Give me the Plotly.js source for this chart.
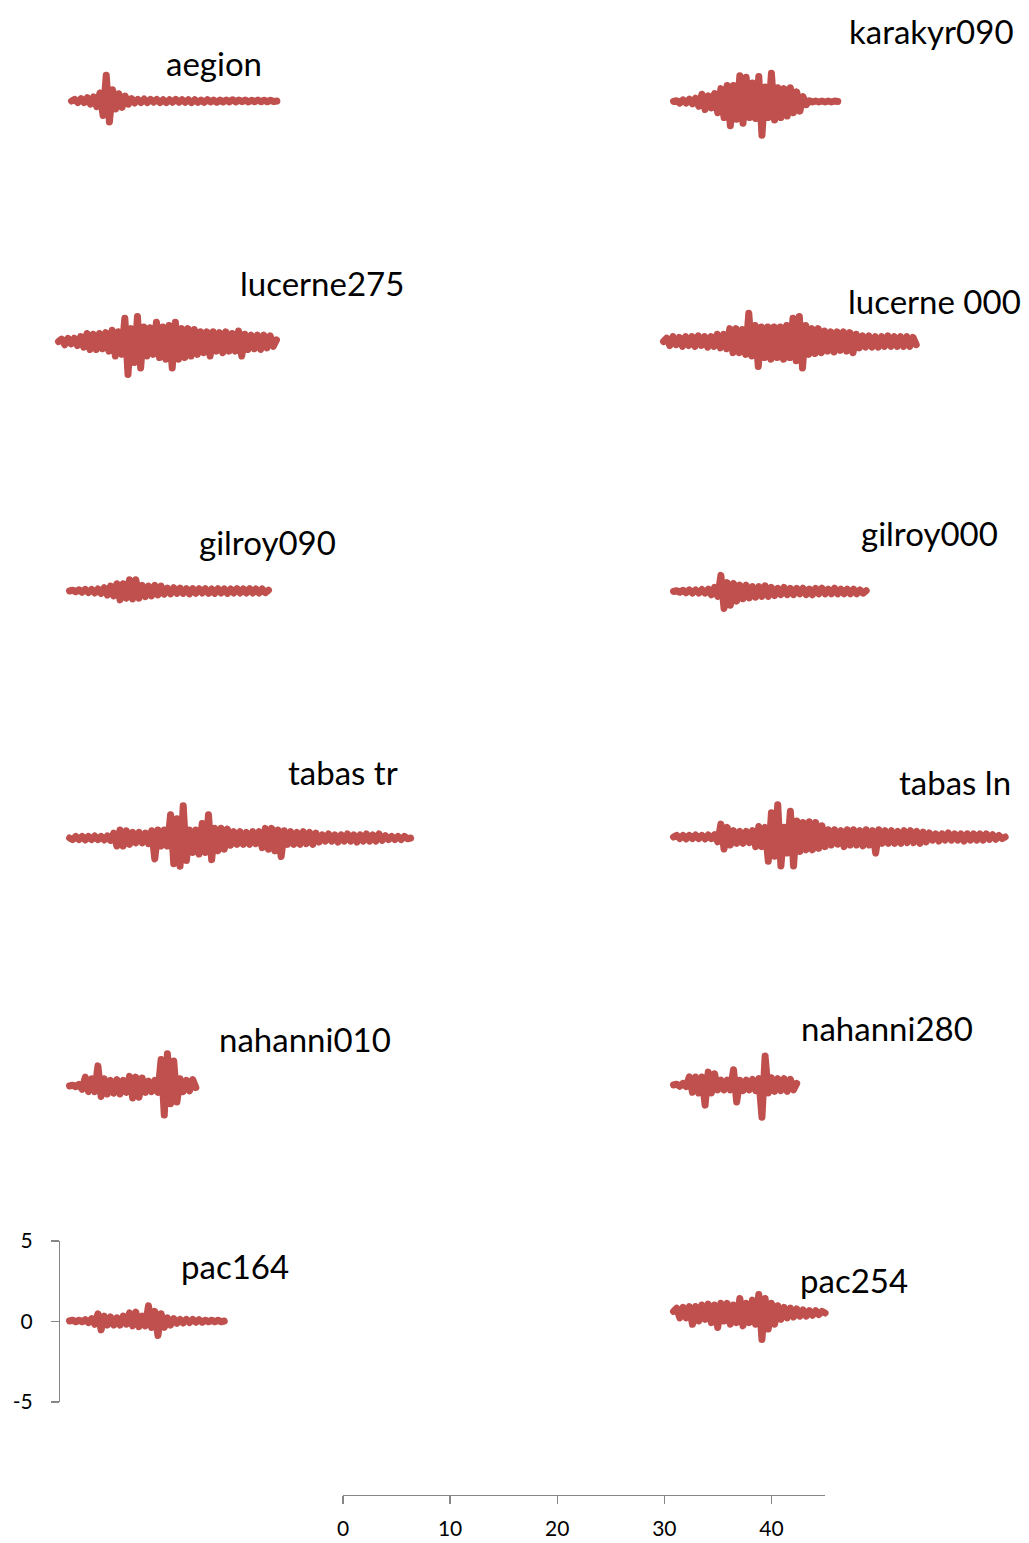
<!DOCTYPE html>
<html><head><meta charset="utf-8">
<script src="https://cdn.plot.ly/plotly-3.0.1.min.js"></script>
<style>
html,body{margin:0;padding:0;background:#fff}
#chart{width:1029px;height:1543px}
.scatterlayer path.js-line{stroke-linejoin:round !important;stroke-linecap:round !important}
</style>
</head><body><div id="chart"></div>
<script>
// sampling interval (s)
const DT = 0.3;

// acceleration records
const aegion = [0,0.1,-0.1,0.15,-0.1,0.2,-0.2,0.25,-0.35,0.5,-0.9,1.6,-1.3,0.7,-0.5,0.45,-0.4,0.3,-0.2,0.15,
 -0.12,0.1,-0.1,0.12,-0.1,0.1,-0.08,0.1,-0.1,0.08,-0.1,0.08,-0.08,0.1,-0.08,0.08,-0.08,0.08,-0.1,0.08,
 -0.08,0.06,-0.08,0.08,-0.06,0.06,-0.08,0.06,-0.06,0.06,-0.06,0.08,-0.06,0.06,-0.05,0.06,-0.06,0.05,-0.05,0.06,
 -0.05,0.05,-0.05,0.05,-0.04,0];
const karakyr090 = [0,0.05,-0.1,0.1,-0.1,0.15,-0.15,0.2,-0.3,0.45,-0.5,0.35,-0.4,0.5,-0.7,0.8,-1.0,1.0,-1.5,1.0,
 -1.1,1.6,-1.35,1.5,-1.0,1.15,-1.05,1.55,-2.1,0.9,-1.0,1.75,-1.15,0.85,-1.0,0.8,-0.9,0.85,-0.7,0.6,
 -0.6,0.3,-0.2,0.05,-0.03,0.03,-0.03,0.03,-0.03,0.03,-0.03,0.03,0];
const lucerne275 = [0,0.15,-0.2,0.2,-0.15,0.2,-0.25,0.3,-0.35,0.5,
 -0.5,0.45,-0.5,0.5,-0.45,0.55,-0.6,0.7,-0.9,0.6,
 -0.8,1.45,-2.05,0.8,-1.3,1.55,-1.65,0.9,-0.9,0.85,
 -0.8,1.2,-1.0,0.9,-1.1,1.0,-1.65,1.2,-1.1,0.8,
 -1.0,0.8,-0.9,0.75,-0.8,0.6,-0.7,0.6,-0.9,0.6,
 -0.6,0.55,-0.7,0.6,-0.6,0.5,-0.6,0.65,-0.9,0.45,
 -0.5,0.4,-0.45,0.4,-0.5,0.4,-0.4,0.35,-0.3,0.1];
const lucerne000 = [0,0.2,-0.25,0.3,-0.2,0.25,-0.3,0.3,-0.25,0.3,
 -0.3,0.35,-0.25,0.3,-0.35,0.3,-0.3,0.45,-0.4,0.45,
 -0.45,0.8,-0.7,0.8,-0.7,0.75,-0.8,1.75,-0.9,1.0,
 -1.55,0.9,-1.0,0.9,-1.1,0.9,-1.0,0.9,-1.1,1.0,
 -1.0,1.45,-1.2,1.55,-1.65,1.0,-0.8,0.8,-0.75,0.8,
 -0.7,0.65,-0.6,0.6,-0.65,0.6,-0.55,0.6,-0.6,0.55,
 -0.7,0.45,-0.4,0.35,-0.35,0.35,-0.35,0.3,-0.35,0.3,
 -0.3,0.35,-0.3,0.3,-0.3,0.3,-0.3,0.3,-0.3,0.25,-0.2];
const gilroy090 = [0,0.05,-0.05,0.08,-0.08,0.1,-0.1,0.1,-0.12,0.12,
 -0.15,0.2,-0.25,0.3,-0.3,0.45,-0.55,0.45,-0.45,0.7,
 -0.5,0.7,-0.45,0.35,-0.35,0.3,-0.3,0.35,-0.25,0.3,
 -0.2,0.18,-0.18,0.2,-0.15,0.18,-0.15,0.15,-0.18,0.15,
 -0.15,0.15,-0.12,0.15,-0.15,0.12,-0.15,0.15,-0.12,0.12,
 -0.15,0.12,-0.12,0.15,-0.12,0.12,-0.12,0.15,-0.12,0.12,
 -0.12,0.12,-0.1,0.05];
const gilroy000 = [0,0.05,-0.05,0.08,-0.08,0.1,-0.1,0.1,-0.1,0.12,
 -0.1,0.15,-0.2,0.25,-0.3,1.0,-1.05,0.55,-0.85,0.5,
 -0.6,0.4,-0.45,0.4,-0.4,0.3,-0.35,0.3,-0.3,0.35,
 -0.3,0.25,-0.25,0.2,-0.2,0.25,-0.2,0.2,-0.2,0.2,
 -0.15,0.2,-0.2,0.15,-0.2,0.2,-0.15,0.2,-0.15,0.15,
 -0.15,0.2,-0.15,0.15,-0.15,0.15,-0.15,0.15,-0.15,0.1,
 -0.1,0.05];
const tabasTr = [0,-0.1,0.1,-0.1,0.1,-0.12,0.1,-0.1,0.12,-0.1,
 0.1,-0.12,0.12,-0.15,0.3,-0.5,0.5,-0.5,0.45,-0.4,
 0.35,-0.3,0.35,-0.3,0.3,-0.35,0.45,-1.3,0.5,-0.5,
 0.5,-0.5,1.45,-1.6,1.2,-1.75,2.0,-1.4,0.5,-0.9,
 0.5,-1.0,0.9,-0.9,1.45,-1.35,0.6,-0.8,0.6,-0.7,
 0.55,-0.45,0.4,-0.4,0.4,-0.4,0.35,-0.4,0.4,-0.35,
 0.4,-0.6,0.6,-0.7,0.6,-0.8,0.5,-1.15,0.45,-0.4,
 0.4,-0.4,0.35,-0.4,0.4,-0.35,0.35,-0.4,0.3,-0.25,
 0.2,-0.2,0.25,-0.2,0.2,-0.25,0.2,-0.2,0.25,-0.2,
 0.2,-0.25,0.2,-0.2,0.25,-0.2,0.2,-0.2,0.25,-0.15,
 0.15,-0.1,0.1,-0.1,0.1,-0.1,0.1,-0.05,0];
const tabasLn = [0,0.1,-0.1,0.1,-0.12,0.1,-0.1,0.12,-0.1,0.1,
 -0.12,0.12,-0.1,0.15,-0.3,0.8,-0.75,0.6,-0.5,0.4,
 -0.4,0.35,-0.4,0.35,-0.35,0.4,-0.6,0.65,-0.6,0.6,
 -1.5,1.5,-1.2,2.0,-1.8,0.6,-1.0,1.6,-1.8,1.0,
 -0.9,0.9,-0.8,0.95,-0.8,0.9,-0.7,0.7,-0.6,0.45,
 -0.5,0.45,-0.45,0.4,-0.6,0.45,-0.5,0.45,-0.5,0.4,
 -0.55,0.45,-0.5,0.4,-1.0,0.45,-0.4,0.4,-0.4,0.4,
 -0.4,0.35,-0.4,0.4,-0.35,0.4,-0.35,0.35,-0.4,0.3,
 -0.3,0.25,-0.2,0.2,-0.25,0.2,-0.2,0.25,-0.2,0.2,
 -0.2,0.2,-0.25,0.2,-0.2,0.2,-0.2,0.2,-0.2,0.2,
 -0.15,0.15,-0.15,0.1,-0.1,0];
const nahanni010 = [0,0.05,-0.05,0.1,-0.2,0.55,-0.35,0.45,-0.35,1.25,
 -0.65,0.45,-0.5,0.35,-0.45,0.4,-0.5,0.35,-0.4,0.6,
 -0.75,0.55,-0.7,0.5,-0.4,0.3,-0.35,0.35,-0.4,1.65,
 -1.8,2.0,-1.1,1.55,-1.0,0.45,-0.35,0.35,-0.3,0.4,
 -0.1];
const nahanni280 = [0,0.05,-0.08,0.1,-0.1,0.5,-0.45,0.5,-0.5,0.5,
 -1.25,0.8,-0.5,0.7,-0.3,0.3,-0.3,0.3,-0.3,0.95,
 -1.05,0.3,-0.35,0.3,-0.3,0.35,-0.35,0.4,-2.0,1.8,
 -0.5,0.45,-0.4,0.4,-0.35,0.4,-0.4,0.35,-0.3,0.1];
const pac164 = [0,0.05,-0.05,0.05,-0.05,0.08,-0.1,0.15,-0.2,0.45,
 -0.55,0.3,-0.25,0.25,-0.25,0.2,-0.25,0.3,-0.2,0.5,
 -0.3,0.55,-0.35,0.3,-0.3,0.95,-0.4,0.6,-0.9,0.45,
 -0.4,0.2,-0.25,0.15,-0.15,0.1,-0.12,0.1,-0.1,0.1,
 -0.08,0.08,-0.08,0.05,-0.05,0.05,-0.05,0.05,-0.05,0];
const pac254 = [0.1,0.3,-0.3,0.35,-0.3,0.4,-0.7,0.4,-0.5,0.5,
 -0.4,0.55,-0.6,0.5,-0.9,0.6,-0.5,0.6,-0.7,0.5,
 -0.6,0.9,-0.8,0.6,-0.6,0.8,-0.7,1.15,-1.65,0.9,
 -1.0,0.6,-0.7,0.45,-0.4,0.35,-0.3,0.3,-0.25,0.25,
 -0.2,0.2,-0.2,0.15,-0.15,0.15,-0.1,0.1,0];

// axis ticks
const xTickVals = [0,10,20,30,40];
const yTickVals = [-5,0,5];
const yTickText = ['-5','0','5'];

// placement of each record on the page (pixels)
const records = [
  {name:'aegion',      vals:aegion,     x0:71.5,  y0:101,   lx:214, ly:63},
  {name:'karakyr090',  vals:karakyr090, x0:673.5, y0:101.5, lx:931, ly:31},
  {name:'lucerne275',  vals:lucerne275, x0:58.5,  y0:341.5, lx:322, ly:283},
  {name:'lucerne 000', vals:lucerne000, x0:663.5, y0:341.5, lx:934, ly:301},
  {name:'gilroy090',   vals:gilroy090,  x0:69.5,  y0:591,   lx:267, ly:542},
  {name:'gilroy000',   vals:gilroy000,  x0:673.5, y0:591.5, lx:929, ly:533},
  {name:'tabas tr',    vals:tabasTr,    x0:69.5,  y0:838,   lx:343, ly:772},
  {name:'tabas ln',    vals:tabasLn,    x0:673.5, y0:837,   lx:955, ly:782},
  {name:'nahanni010',  vals:nahanni010, x0:69.5,  y0:1086,  lx:305, ly:1039},
  {name:'nahanni280',  vals:nahanni280, x0:673.5, y0:1085,  lx:887, ly:1028},
  {name:'pac164',      vals:pac164,     x0:69.5,  y0:1321,  lx:235, ly:1266},
  {name:'pac254',      vals:pac254,     x0:673.5, y0:1313,  lx:854, ly:1280}
];

const W = 1029, H = 1543, PXS = 10.53, PXU = 16.1;
const AXC = '#868686';
const FONT = 'Lato, Carlito, "Open Sans", sans-serif';

const data = [{x:[], y:[], xaxis:'x', yaxis:'y', type:'scatter', mode:'lines', hoverinfo:'skip', showlegend:false}];
const layout = {
  width:W, height:H, margin:{l:0,r:0,t:0,b:0},
  paper_bgcolor:'#ffffff', plot_bgcolor:'rgba(0,0,0,0)', showlegend:false,
  xaxis:{domain:[343/W, 825/W], range:[0,45], anchor:'free', position:(H-1495)/H,
    tickmode:'array', tickvals:xTickVals, ticks:'outside', ticklen:8, tickwidth:1.3, tickcolor:AXC,
    showline:true, linecolor:AXC, linewidth:1.3, showgrid:false, zeroline:false, ticklabelstandoff:6,
    tickfont:{family:FONT, size:21, color:'#000'}, fixedrange:true},
  yaxis:{domain:[(H-1402)/H, (H-1241)/H], range:[-5,5], anchor:'free', position:59/W,
    tickmode:'array', tickvals:yTickVals, ticktext:yTickText, ticks:'outside', ticklen:8, tickwidth:1.3, tickcolor:AXC,
    showline:true, linecolor:AXC, linewidth:1.3, showgrid:false, zeroline:false, ticklabelstandoff:14,
    tickfont:{family:FONT, size:21, color:'#000'}, fixedrange:true},
  annotations:[]
};

records.forEach((r,k)=>{
  const n = k+2;
  const xs = r.vals.map((v,i)=>i*DT);
  const tEnd = xs[xs.length-1];
  const xd0 = r.x0-10;
  const xd1 = Math.min(W, r.x0 + tEnd*PXS + 15);
  const h = 60;
  layout['xaxis'+n] = {domain:[xd0/W, xd1/W], range:[-10/PXS, (xd1-r.x0)/PXS], visible:false, anchor:'y'+n, fixedrange:true};
  layout['yaxis'+n] = {domain:[(H-(r.y0+h))/H, (H-(r.y0-h))/H], range:[-h/PXU, h/PXU], visible:false, anchor:'x'+n, fixedrange:true};
  data.push({x:xs, y:r.vals, xaxis:'x'+n, yaxis:'y'+n, type:'scatter', mode:'lines',
    line:{color:'#C0504D', width:7, simplify:false}, hoverinfo:'skip', showlegend:false});
  layout.annotations.push({text:r.name, xref:'paper', yref:'paper', x:r.lx/W, y:1-r.ly/H,
    xanchor:'center', yanchor:'middle', showarrow:false, font:{family:FONT, size:33, color:'#000'}});
});

Plotly.newPlot('chart', data, layout, {staticPlot:true, displayModeBar:false}).then(gd=>{
  gd.querySelectorAll('.scatterlayer path.js-line').forEach(p=>{
    p.style.strokeLinejoin='round'; p.style.strokeLinecap='round';
  });
});
</script>
</body></html>
